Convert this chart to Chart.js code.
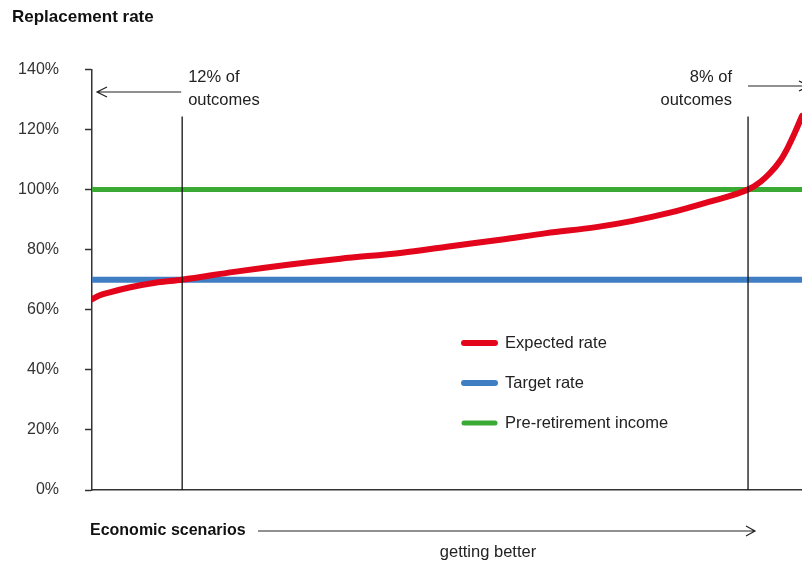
<!DOCTYPE html>
<html><head><meta charset="utf-8">
<script src="https://cdn.jsdelivr.net/npm/chart.js@4/dist/chart.umd.min.js"></script>
<style>html,body{margin:0;padding:0;background:#fff}#wrap{width:802px;height:563px;position:relative}</style>
</head><body><div id="wrap"><canvas id="c" width="802" height="563"></canvas></div>
<script>
// ---- data ----
const scenarioPercentiles = [0, 1.1, 2.5, 5.4, 8.9, 12.7, 20, 27.6, 35, 43.7, 50, 57.5, 64, 71, 76, 81.4, 87, 92.4, 94.1, 95.5, 96.9, 98, 99, 100];
const expectedRate = [63.5, 64.8, 65.8, 67.5, 69, 70, 72.6, 75, 77, 79, 81, 83.3, 85.5, 87.5, 89.5, 92.3, 96, 100, 102.5, 105.5, 109.5, 114, 119, 124.5];
const targetRate = 70;
const preRetirementIncome = 100;
const lowCutoff = 12.7;   // 12% of outcomes below target
const highCutoff = 92.4;  // 8% of outcomes above pre-retirement income
const cutoffLineTop = 124.3;
const yTickValues = [0, 20, 40, 60, 80, 100, 120, 140];
const seriesLabels = ['Expected rate', 'Target rate', 'Pre-retirement income'];
const seriesColors = ['#e3051b', '#3f7ec3', '#3aaa35'];

const FONT = '"Liberation Sans", Arial, sans-serif';

const annotations = {
  id: 'annotations',
  afterDraw(chart) {
    const ctx = chart.ctx;
    const xs = chart.scales.x;
    const lowX = xs.getPixelForValue(lowCutoff);
    const highX = xs.getPixelForValue(highCutoff);
    ctx.save();
    ctx.fillStyle = '#222';
    ctx.strokeStyle = '#222';
    ctx.lineWidth = 1.2;
    ctx.textBaseline = 'middle';
    ctx.font = '16.5px ' + FONT;
    // left annotation
    ctx.textAlign = 'left';
    ctx.fillText('12% of', lowX + 6, 77);
    ctx.fillText('outcomes', lowX + 6, 100);
    const ly = 92, lTip = chart.chartArea.left + 5;
    ctx.beginPath();
    ctx.moveTo(lowX - 1, ly); ctx.lineTo(lTip, ly);
    ctx.moveTo(lTip + 10, ly - 5); ctx.lineTo(lTip, ly); ctx.lineTo(lTip + 10, ly + 5);
    ctx.stroke();
    // right annotation
    ctx.textAlign = 'right';
    ctx.fillText('8% of', highX - 16, 77);
    ctx.fillText('outcomes', highX - 16, 100);
    const ry = 86, rTip = 809;
    ctx.beginPath();
    ctx.moveTo(highX, ry); ctx.lineTo(rTip, ry);
    ctx.moveTo(rTip - 10, ry - 5); ctx.lineTo(rTip, ry); ctx.lineTo(rTip - 10, ry + 5);
    ctx.stroke();
    // x axis title
    ctx.textAlign = 'left';
    ctx.font = 'bold 16px ' + FONT;
    ctx.fillStyle = '#111';
    ctx.fillText('Economic scenarios', 90, 531);
    ctx.beginPath();
    ctx.moveTo(258, 531); ctx.lineTo(755, 531);
    ctx.moveTo(746, 526); ctx.lineTo(755, 531); ctx.lineTo(746, 536);
    ctx.stroke();
    ctx.font = '16.5px ' + FONT;
    ctx.fillStyle = '#222';
    ctx.textAlign = 'center';
    ctx.fillText('getting better', 488, 552);
    // legend
    ctx.textAlign = 'left';
    ctx.lineCap = 'round';
    seriesLabels.forEach((lab, i) => {
      const y = 343 + i * 40;
      ctx.strokeStyle = seriesColors[i];
      ctx.lineWidth = i === 2 ? 5 : 6;
      ctx.beginPath(); ctx.moveTo(464, y); ctx.lineTo(495, y); ctx.stroke();
      ctx.fillStyle = '#222';
      ctx.fillText(lab, 505, y);
    });
    ctx.restore();
  }
};

new Chart(document.getElementById('c'), {
  type: 'line',
  data: {
    datasets: [
      { label: 'low cutoff', data: [{x: lowCutoff, y: 0}, {x: lowCutoff, y: cutoffLineTop}], borderColor: '#111', borderWidth: 1.3, pointRadius: 0, order: 0 },
      { label: 'high cutoff', data: [{x: highCutoff, y: 0}, {x: highCutoff, y: cutoffLineTop}], borderColor: '#111', borderWidth: 1.3, pointRadius: 0, order: 0 },
      { label: seriesLabels[0], data: scenarioPercentiles.map((p, i) => ({x: p, y: expectedRate[i]})), borderColor: seriesColors[0], borderWidth: 6, pointRadius: 0, cubicInterpolationMode: 'monotone', borderCapStyle: 'round', order: 1 },
      { label: seriesLabels[1], data: [{x: 0, y: targetRate}, {x: 100, y: targetRate}], borderColor: seriesColors[1], borderWidth: 6, pointRadius: 0, order: 2 },
      { label: seriesLabels[2], data: [{x: 0, y: preRetirementIncome}, {x: 100, y: preRetirementIncome}], borderColor: seriesColors[2], borderWidth: 5, pointRadius: 0, order: 2 }
    ]
  },
  options: {
    responsive: false,
    animation: false,
    layout: { padding: { left: 12, right: 0, top: 0, bottom: 0 } },
    plugins: {
      legend: { display: false },
      tooltip: { enabled: false },
      title: { display: true, text: 'Replacement rate', align: 'start', color: '#111',
        font: { family: FONT, size: 17, weight: 'bold' }, padding: { top: 7, bottom: 42 } }
    },
    scales: {
      x: { type: 'linear', min: 0, max: 100,
        ticks: { display: false },
        grid: { display: false, drawTicks: false },
        border: { display: true, color: '#333', width: 1.5 },
        afterFit(s) { s.height = 73; } },
      y: { min: 0, max: 140,
        afterBuildTicks(s) { s.ticks = yTickValues.map(v => ({ value: v })); },
        ticks: { callback: v => v + '%', padding: 26, color: '#333', font: { family: FONT, size: 16 } },
        grid: { drawOnChartArea: false, drawTicks: true, tickLength: 7, tickColor: '#333', tickWidth: 1.5 },
        border: { display: true, color: '#333', width: 1.5 },
        afterFit(s) { s.width = 80; } }
    }
  },
  plugins: [annotations]
});
</script></body></html>
